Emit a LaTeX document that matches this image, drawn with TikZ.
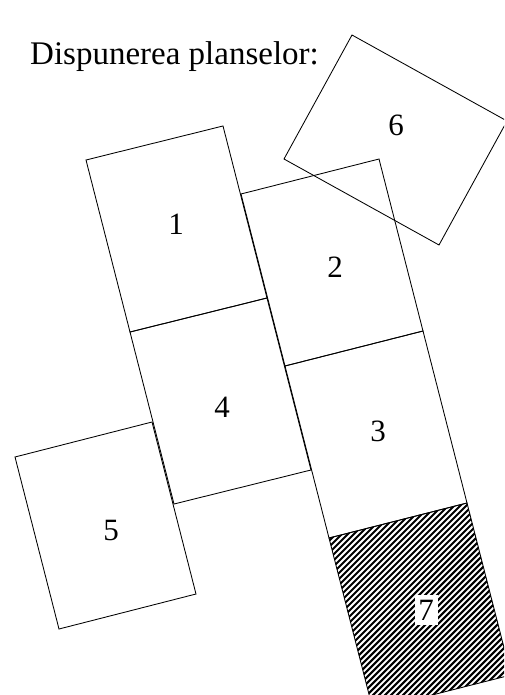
\documentclass[tikz,border=0pt]{standalone}
\usepackage{fontspec}
\setmainfont{Liberation Serif}
\tikzset{
  sheet/.style={draw=black,line width=0.85pt,line join=miter,fill=none},
  lab/.style={font=\fontsize{31}{34}\selectfont,inner sep=0pt},
  hatchline/.style={line width=2.1pt,black}
}
\begin{document}
\begin{tikzpicture}[x=1pt,y=-1pt]
\useasboundingbox (0,0) rectangle (504,695);
\clip (0,0) rectangle (504,695);
% hatching of sheet 7
\begin{scope}
\clip (329,538) -- (467,503) -- (511,675) -- (373,710) -- cycle;
\foreach \k in {0,...,110} {
  \draw[hatchline] (90+\k*6,720) -- (90+\k*6+260,720-260);
}
\end{scope}
\draw[sheet] (86,160) -- (223,126) -- (267,298) -- (130,332) -- cycle;
\draw[sheet] (130,332) -- (267,298) -- (311,470) -- (174,504) -- cycle;
\draw[sheet] (241,194) -- (379,159) -- (423,331) -- (285,366) -- cycle;
\draw[sheet] (285,366) -- (423,331) -- (467,503) -- (329,538) -- cycle;
\draw[sheet] (329,538) -- (467,503) -- (511,675) -- (373,710) -- cycle;
\draw[sheet] (15,457) -- (152,422) -- (196,594) -- (59,629) -- cycle;
\draw[sheet] (352,35) -- (507,121) -- (439,245) -- (284,159) -- cycle;
\node[lab,anchor=base west,font=\fontsize{33}{35}\selectfont] (title) at (30,65) {Dispunerea planselor:};
\node[lab] (n1) at (176,224) {1};
\node[lab] (n2) at (335,267) {2};
\node[lab] (n3) at (378,431) {3};
\node[lab] (n4) at (222,407) {4};
\node[lab] (n5) at (111,530) {5};
\node[lab] (n6) at (396,125) {6};
\node[lab,fill=white,minimum width=23pt,minimum height=30pt] (n7) at (426,610) {7};
\end{tikzpicture}
\end{document}
